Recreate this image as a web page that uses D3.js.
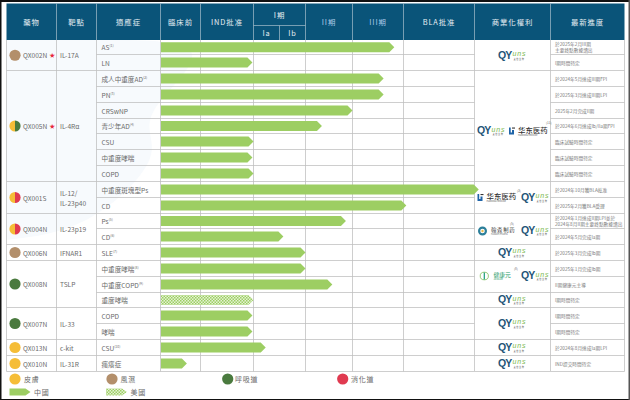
<!DOCTYPE html>
<html><head><meta charset="utf-8">
<script src="https://cdn.jsdelivr.net/npm/d3@7/dist/d3.min.js"></script>
<style>html,body{margin:0;padding:0;background:#fff}svg{display:block}text{font-family:"Noto Sans CJK TC","Noto Sans",sans-serif}</style>
</head><body><svg id="c" width="630" height="400"></svg>
<script>
// ---- data ----
const drugNames   = ["QX002N","QX005N","QX001S","QX004N","QX006N","QX008N","QX007N","QX013N","QX010N"];
const drugTargets = [["IL-17A"],["IL-4Rα"],["IL-12/","IL-23p40"],["IL-23p19"],["IFNAR1"],["TSLP"],["IL-33"],["c-kit"],["IL-31R"]];
const drugRows    = [2,7,2,2,1,3,2,1,1];
const drugStar    = [true,true,false,false,false,false,false,false,false];
const drugAreas   = [["rheum"],["skin","resp"],["skin","gut"],["skin","gut"],["rheum"],["resp"],["resp"],["skin"],["skin"]];
const indications = ["AS","LN","成人中重度AD","PN","CRSwNP","青少年AD","CSU","中重度哮喘","COPD","中重度斑塊型Ps","CD","Ps","CD","SLE","中重度哮喘","中重度COPD","重度哮喘","COPD","哮喘","CSU","瘙癢症"];
const noteMarks   = ["(1)","","(2)","(3)","","(4)","","","","","","(5)","(6)","(7)","(8)","(9)","","","","(10)",""];
const stageEnds   = [5.82,1.98,5.61,5.61,5.0,4.35,2.0,1.98,2.0,7.06,6.04,4.86,3.15,4.0,4.0,4.57,2.0,1.98,1.98,2.47,0.66];
const regions     = ["cn","cn","cn","cn","cn","cn","cn","cn","cn","cn","cn","cn","cn","cn","cn","cn","us","cn","cn","cn","cn"];
const progress = [
 ["於2025年2月III期","主要終點數據讀出"],["I期時間待定"],["於2024年5月達成III期FPI"],["於2025年3月達成III期LPI"],["2025年2月完成II期"],
 ["於2024年6月達成Ib/IIa期FPI"],["臨床試驗時間待定"],["臨床試驗時間待定"],["臨床試驗時間待定"],["於2024年10月獲BLA批准"],["於2025年2月獲BLA受理"],
 ["於2024年1月達成II期LPI並於","2024年8月II期主要終點數據讀出"],["於2024年5月完成Ia期"],["於2025年3月完成Ib期"],["於2025年1月完成Ib期"],["II期健康元主導"],
 ["I期時間待定"],["I期時間待定"],["I期時間待定"],["於2024年8月達成Ia期LPI"],["IND提交時間待定"]];
const rightsRows  = [2,7,2,2,1,2,1,2,1,1];
const rightsLogos = [["qy"],["qy","huadong"],["huadong","qy"],["hansoh","qy"],["qy"],["joincare","qy"],["qy"],["qy"],["qy"],["qy"]];
const rightsNotes = ["","(11)","(3)","(5)","","(8)","","","",""];
const headers1 = ["藥物","靶點","適應症","臨床前","IND批准"];
const headers2 = ["II期","III期","BLA批准","商業化權利","最新進度"];
const headerI = "I期", subI = ["Ia","Ib"];
const areaNames = ["皮膚","風濕","呼吸道","消化道"], areaKeys = ["skin","rheum","resp","gut"];
const regionNames = ["中國","美國"], regionKeys = ["cn","us"];

// ---- layout ----
const colors = {skin:"#f5bd37",rheum:"#b38f6b",resp:"#4a7a3e",gut:"#e03a50",cn:"#9dce63",head:"#0a5479",line:"#bdbdbd",text:"#6a6a6a"};
const colEdges = [6.5,56.5,96.5,160.5,200.5,253.5,279.5,305.5,352.5,403.5,474.5,550.5,624.5];
const rowEdges = [40,54.5,70.5,86.5,102.5,118.5,133.5,149.5,165.5,181.5,197.5,213.5,228.5,244.5,260.5,276.5,292.5,307.5,323.5,339.5,355.5,371.5];
const stage = d3.scaleLinear().domain(d3.range(8)).range(colEdges.slice(3,11));
const y = d3.scaleLinear().domain(d3.range(22)).range(rowEdges);
const svg = d3.select("#c");

// page frame + pale backdrop
svg.append("rect").attr("width",630).attr("height",400).attr("fill","#fff");
svg.append("path").attr("d",d3.line().curve(d3.curveBasis)([[6,40],[100,40],[230,40],[130,120],[170,150],[90,230],[6,240]])+"Z").attr("fill","#f7fafd");
svg.append("rect").attr("x",0).attr("y",0).attr("width",630).attr("height",2).attr("fill","#111");
svg.append("rect").attr("x",0).attr("y",0).attr("width",1.5).attr("height",400).attr("fill","#111");
svg.append("rect").attr("x",0).attr("y",399).attr("width",630).attr("height",1).attr("fill","#111");
svg.append("rect").attr("x",628.5).attr("y",0).attr("width",1.5).attr("height",400).attr("fill","#555");

// header
const hTop=3.5,hBot=40,hMid=25.5;
svg.append("rect").attr("x",colEdges[0]).attr("y",hTop).attr("width",colEdges[12]-colEdges[0]).attr("height",hBot-hTop).attr("fill",colors.head);
const headLine="#a6bfcd";
[1,2,3,4,5,7,8,9,10,11].forEach(i=>svg.append("line").attr("x1",colEdges[i]).attr("x2",colEdges[i]).attr("y1",hTop).attr("y2",hBot).attr("stroke",headLine).attr("stroke-width",.7));
svg.append("line").attr("x1",colEdges[5]).attr("x2",colEdges[7]).attr("y1",hMid).attr("y2",hMid).attr("stroke",headLine).attr("stroke-width",.7);
svg.append("line").attr("x1",colEdges[6]).attr("x2",colEdges[6]).attr("y1",hMid).attr("y2",hBot).attr("stroke",headLine).attr("stroke-width",.7);
function head(t,i,j,yy,fill){svg.append("text").attr("x",(colEdges[i]+colEdges[j])/2).attr("y",yy).attr("text-anchor","middle").attr("font-size",7.4).attr("letter-spacing",.9).attr("fill",fill||"#e6eef3").text(t);}
headers1.forEach((t,i)=>head(t,i,i+1,25));
head(headerI,5,7,17.5);
subI.forEach((t,i)=>head(t,5+i,6+i,35.5));
head(headers2[0],7,8,25,"#a9c9e8");head(headers2[1],8,9,25,"#a9c9e8");
head(headers2[2],9,10,25);head(headers2[3],10,11,25);head(headers2[4],11,12,25);

// grid
const grid=svg.append("g").attr("stroke",colors.line).attr("stroke-width",.75);
[3,4,5,7,8,9,10,11,12].forEach(i=>grid.append("line").attr("x1",colEdges[i]).attr("x2",colEdges[i]).attr("y1",hBot).attr("y2",y(21)));
[0,1,2].forEach(i=>grid.append("line").attr("x1",colEdges[i]).attr("x2",colEdges[i]).attr("y1",hBot).attr("y2",y(21)));
indications.forEach((d,i)=>{grid.append("line").attr("x1",colEdges[2]).attr("x2",colEdges[10]).attr("y1",y(i+1)).attr("y2",y(i+1));
  grid.append("line").attr("x1",colEdges[11]).attr("x2",colEdges[12]).attr("y1",y(i+1)).attr("y2",y(i+1));});
let r0=0; const drugStart=drugRows.map(n=>{const s=r0;r0+=n;return s;});
drugStart.forEach((s,i)=>grid.append("line").attr("x1",colEdges[0]).attr("x2",colEdges[2]).attr("y1",y(s+drugRows[i])).attr("y2",y(s+drugRows[i])));
r0=0; const rightStart=rightsRows.map(n=>{const s=r0;r0+=n;return s;});
rightStart.forEach((s,i)=>grid.append("line").attr("x1",colEdges[10]).attr("x2",colEdges[11]).attr("y1",y(s+rightsRows[i])).attr("y2",y(s+rightsRows[i])));

// hatch pattern
const defs=svg.append("defs");
const pat=defs.append("pattern").attr("id","hatch").attr("patternUnits","userSpaceOnUse").attr("width",3).attr("height",3);
pat.append("rect").attr("width",3).attr("height",3).attr("fill","#e4f2d4");
pat.append("rect").attr("width",1.5).attr("height",1.5).attr("fill",colors.cn);
pat.append("rect").attr("x",1.5).attr("y",1.5).attr("width",1.5).attr("height",1.5).attr("fill",colors.cn);

// arrows
function arrow(x0,x1,cy,h,head){return `M${x0},${cy-h}L${x1-head},${cy-h}L${x1},${cy}L${x1-head},${cy+h}L${x0},${cy+h}Z`;}
svg.append("g").selectAll("path").data(stageEnds).join("path")
  .attr("d",(d,i)=>arrow(stage(0)+.5,stage(d),y(i+.5),4.9,5))
  .attr("fill",(d,i)=>regions[i]==="us"?"url(#hatch)":colors.cn);

// texts
function label(x,yy,t,o={}){return svg.append("text").attr("x",x).attr("y",yy).attr("font-size",o.size||6.6).attr("fill",o.fill||colors.text).attr("text-anchor",o.anchor||"start").attr("dominant-baseline","central").attr("letter-spacing",o.ls||0).text(t);}
function dot(cx,cy,keys,r){
  if(keys.length===1){svg.append("circle").attr("cx",cx).attr("cy",cy).attr("r",r).attr("fill",colors[keys[0]]);return;}
  const arc=d3.arc().innerRadius(0).outerRadius(r);
  svg.append("path").attr("transform",`translate(${cx},${cy})`).attr("d",arc({startAngle:Math.PI,endAngle:2*Math.PI})).attr("fill",colors[keys[0]]);
  svg.append("path").attr("transform",`translate(${cx},${cy})`).attr("d",arc({startAngle:0,endAngle:Math.PI})).attr("fill",colors[keys[1]]);
}
drugNames.forEach((n,i)=>{
  const cy=(y(drugStart[i])+y(drugStart[i]+drugRows[i]))/2;
  dot(15,cy,drugAreas[i],5.6);
  label(23,cy,n);
  if(drugStar[i]) label(49.5,cy-.3,"★",{fill:"#e8263a",size:5.5});
  const tl=drugTargets[i];
  tl.forEach((t,k)=>label(60,cy+(k-(tl.length-1)/2)*10,t));
});
indications.forEach((t,i)=>{
  const tx=label(101.5,y(i+.5),t);
  if(noteMarks[i]) tx.append("tspan").attr("font-size",3.4).attr("dy",-2).text(noteMarks[i]);
  const p=progress[i];
  p.forEach((s,k)=>label(555,y(i+.5)+(k-(p.length-1)/2)*6,s,{size:4.7,fill:"#7a7a7a"}));
});

// partner marks
function logoQY(cx,cy){
  const g=svg.append("g").attr("transform",`translate(${cx-14},${cy})`);
  g.append("text").attr("x",0).attr("y",3.4).attr("font-size",10.5).attr("font-weight",700).attr("letter-spacing",-.9).attr("style","font-family:'Liberation Sans'").attr("fill","#1f5578").text("QY");
  g.append("text").attr("x",14.6).attr("y",0.9).attr("font-size",7).attr("font-style","italic").attr("letter-spacing",.8).attr("style","font-family:'Liberation Sans'").attr("fill","#7cb84a").text("uns");
  g.append("text").attr("x",15.5).attr("y",4.3).attr("font-size",2.2).attr("letter-spacing",.6).attr("fill","#555").text("荃信生物");
}
function logoHuadong(x,cy){
  const g=svg.append("g").attr("transform",`translate(${x},${cy})`);
  g.append("path").attr("d","M0,-3.5V3.5H5V-1H3V1.5H1.7V-3.5Z").attr("fill","#1f64a8");
  g.append("path").attr("d","M3,-3.5H6V-2.4H3Z").attr("fill","#333");
  g.append("text").attr("x",9).attr("y",1.6).attr("font-size",7.4).attr("font-weight",500).attr("fill","#333").text("华东医药");
  g.append("text").attr("x",9).attr("y",4.8).attr("font-size",2).attr("fill","#555").text("HUADONG MEDICINE");
}
function logoHansoh(x,cy){
  const g=svg.append("g").attr("transform",`translate(${x},${cy})`);
  g.append("circle").attr("cx",5).attr("cy",0).attr("r",3.4).attr("fill","none").attr("stroke","#2c7f9a").attr("stroke-width",2.2);
  g.append("circle").attr("cx",5).attr("cy",0).attr("r",1.2).attr("fill","#e9b949");
  g.append("text").attr("x",13.5).attr("y",1.2).attr("font-size",5.4).attr("letter-spacing",.7).attr("fill","#444").text("翰森制药");
  g.append("text").attr("x",13.5).attr("y",4.2).attr("font-size",2).attr("fill","#666").text("HANSOH PHARMA");
}
function logoJoincare(x,cy){
  const g=svg.append("g").attr("transform",`translate(${x},${cy})`);
  g.append("ellipse").attr("cx",4.3).attr("cy",0).attr("rx",4.1).attr("ry",3.8).attr("fill","none").attr("stroke","#6fb63f").attr("stroke-width",.7);
  g.append("rect").attr("x",3.7).attr("y",-3.5).attr("width",1.2).attr("height",7).attr("fill","#1a9b78");
  g.append("text").attr("x",13.5).attr("y",1).attr("font-size",5.8).attr("fill","#1b9a66").text("健康元");
  g.append("text").attr("x",13.5).attr("y",4.2).attr("font-size",2).attr("fill","#1b9a66").text("JOINCARE");
}
rightsRows.forEach((n,i)=>{
  const cy=(y(rightStart[i])+y(rightStart[i]+n))/2;
  const L=rightsLogos[i];
  if(L.length===1){logoQY(512,cy);return;}
  const ly=i===1?131:i===2?197.5:i===3?231:cy-.5;
  const noteX={1:546,2:517,3:510,5:514}[i];
  if(i===1){logoQY(491,ly);logoHuadong(509,ly);}
  else{
    if(L[0]==="huadong")logoHuadong(477.5,ly);
    if(L[0]==="hansoh")logoHansoh(477.5,ly);
    if(L[0]==="joincare")logoJoincare(480,ly);
    logoQY(535,ly);
  }
  label(noteX,ly-(i===1?8.6:7.5),rightsNotes[i],{size:3.2});
});

// legend
areaKeys.forEach((k,i)=>{
  const lx=[15,112,227.7,342.7][i], tx=[24,120.5,235,351][i];
  svg.append("circle").attr("cx",lx).attr("cy",379).attr("r",5.6).attr("fill",colors[k]);
  label(tx,379,areaNames[i],{size:7,ls:.8});
});
regionKeys.forEach((k,i)=>{
  const x0=[9.5,106][i];
  svg.append("path").attr("d",arrow(x0,x0+21,392,3.4,5)).attr("fill",k==="us"?"url(#hatch)":colors.cn);
  label([34,130.5][i],392,regionNames[i],{size:7,ls:.8});
});
</script></body></html>
